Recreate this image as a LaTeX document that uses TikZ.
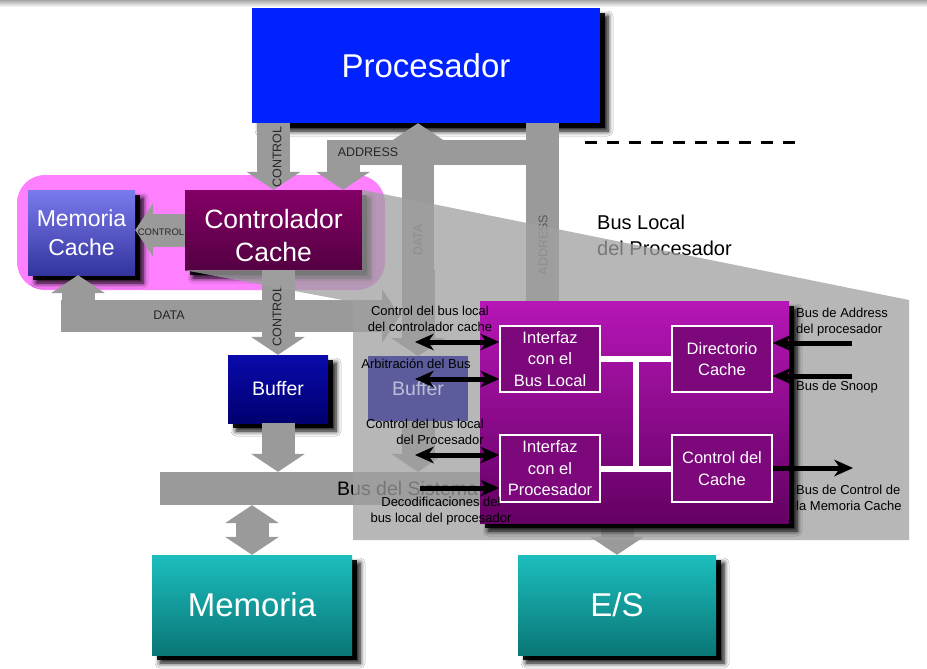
\documentclass[tikz,border=0pt]{standalone}
\usepackage{fontspec}
\setmainfont{Liberation Sans}
\usetikzlibrary{arrows.meta,shadows.blur}

\definecolor{procblue}{RGB}{0,34,255}
\definecolor{mctop}{RGB}{122,122,238}
\definecolor{mcbot}{RGB}{52,52,158}
\definecolor{ctltop}{RGB}{132,0,102}
\definecolor{ctlbot}{RGB}{84,0,66}
\definecolor{pinkbg}{RGB}{255,128,255}
\definecolor{buftop}{RGB}{10,10,172}
\definecolor{bufbot}{RGB}{0,0,112}
\definecolor{tealtop}{RGB}{28,190,190}
\definecolor{tealbot}{RGB}{10,118,118}
\definecolor{purtop}{RGB}{182,22,182}
\definecolor{purbot}{RGB}{100,0,100}
\definecolor{purin}{RGB}{124,8,124}
\definecolor{busgray}{RGB}{154,154,154}
\definecolor{zoomgray}{RGB}{160,160,160}

\newcommand\fsz[2]{\fontsize{#1}{#2}\selectfont}

\tikzset{
  bigtri/.tip={Triangle[width=54pt,length=18pt,line width=0pt]},
  sigtip/.tip={Stealth[width=17pt,length=19pt,inset=6pt,line width=0pt]},
  box/.style={inner sep=0pt, text=white, align=center,
    blur shadow={shadow xshift=8pt,shadow yshift=-8pt,shadow blur radius=5pt,shadow blur steps=6,shadow opacity=100},
    preaction={fill=black, opacity=0.9, transform canvas={shift={(5pt,-5pt)}}}},
  bus/.style={draw=busgray, line width=#1, line join=miter},
  bus/.default=33pt,
  ifbox/.style={draw=white, line width=1.5pt, fill=purin, text=white, inner sep=0pt,
    minimum width=100pt, minimum height=66pt, align=center, font=\fsz{16.5}{21.5}},
  sig/.style={line width=5pt},
  lbl/.style={inner sep=0pt, font=\fsz{13}{15.5}},
  buslbl/.style={inner sep=0pt, text=black!85, font=\fsz{12.5}{15}},
}

\begin{document}
\begin{tikzpicture}[x=1pt,y=-1pt]
\useasboundingbox (0,0) rectangle (927,669);
\fill[white] (0,0) rectangle (927,669);
\shade[top color=gray!70, bottom color=white] (0,0) rectangle (927,7);

\coordinate (dash1) at (585,142);
\coordinate (dash2) at (800,142);
\draw[line width=3pt, dash pattern=on 12pt off 10pt] (dash1) -- (dash2);
\node[anchor=west, align=left, inner sep=0pt, font=\fsz{20}{26}] (blp) at (597,235) {Bus Local\\del Procesador};

\node[fill=pinkbg, rounded corners=28pt, minimum width=368pt, minimum height=115pt] (grp) at (201,232.5) {};

\node[box, fill=procblue, minimum width=348pt, minimum height=115pt, font=\fsz{33}{40}] (proc) at (426,65.5) {Procesador};
\node[box, top color=mctop, bottom color=mcbot, minimum width=107pt, minimum height=85pt, font=\fsz{23}{29}] (mcache) at (81.5,232.5) {Memoria\\Cache};
\node[box, top color=ctltop, bottom color=ctlbot, minimum width=177pt, minimum height=80pt, font=\fsz{26.5}{33},
  text height=62pt, text depth=0pt] (ctrl) at (273.5,230) {Controlador\\Cache};
\node[box, top color=buftop, bottom color=bufbot, minimum width=100pt, minimum height=68pt, font=\fsz{19.5}{24}] (buffer) at (278,389) {Buffer};
\node[fill=busgray, inner sep=0pt, minimum width=330pt, minimum height=33pt] (bus) at (325,488.5) {};
\node[box, top color=tealtop, bottom color=tealbot, minimum width=200pt, minimum height=100pt, font=\fsz{33}{40}] (mem) at (252,605) {Memoria};
\node[box, top color=tealtop, bottom color=tealbot, minimum width=198pt, minimum height=100pt, font=\fsz{33}{40}] (es) at (617,605) {E/S};

% buses
\coordinate (adr) at (542,152);
\coordinate (adrend) at (542,301);
\coordinate (adrleft) at (327,152);
\coordinate (adrdown) at (343,140);
\draw[bus] (proc.south -| adr) -- (adrend);
\draw[bus=25pt] (adr) -- (adrleft);
\draw[bus,-bigtri] (adrdown) -- (adrdown |- ctrl.north);
\draw[bus,-bigtri] (proc.south -| ctrl.north) -- (ctrl.north);
\coordinate (dat) at (418,332);
\draw[bus=32pt,-bigtri] (dat) -- (dat |- proc.south);
\coordinate (dl) at (78,332);
\coordinate (dh) at (61,316);
\coordinate (dr) at (400,316);
\draw[bus,-bigtri] (dl) -- (dl |- mcache.south);
\draw[bus=32pt,-bigtri] (dh) -- (dr);
\draw[bus,-bigtri] (ctrl.west) -- (ctrl.west -| mcache.east);
\draw[bus,-bigtri] (ctrl.south -| buffer.north) -- (buffer.north);
\draw[bus,-bigtri] (buffer.south) -- (buffer.south |- bus.north);
\draw[bus,bigtri-bigtri] (bus.south -| mem.north) -- (mem.north);
\coordinate (esin) at (617,520);
\draw[bus,-bigtri] (esin) -- (es.north);
\coordinate (gc) at (418,270);
\coordinate (gcend) at (418,356);
\coordinate (gb) at (418,421);
\draw[bus,-bigtri] (gc) -- (gcend);
\draw[bus,-bigtri] (gb) -- (gb |- bus.north);

\node[buslbl, rotate=90] (lc1) at (277,157) {CONTROL};
\node[buslbl, rotate=90] (lc2) at (277,316) {CONTROL};
\node[buslbl] (la1) at (368,152) {ADDRESS};
\node[buslbl, font=\fsz{9.5}{11}] (lc3) at (161,232) {CONTROL};
\node[buslbl] (ld1) at (169,315) {DATA};
\node[buslbl, rotate=90, text=black!65] (ld2) at (418,240) {DATA};
\node[buslbl, rotate=90, text=black!65] (la2) at (543,245) {ADDRESS};
\node[anchor=west, inner sep=0pt, font=\fsz{19.5}{24}] (bustxt) at (337,489) {Bus del Sistema};

% zoom
\fill[zoomgray, opacity=0.75] (ctrl.north east) -- (909,300) -- (909,540) -- (353,540)
  -- (353,302) -- (ctrl.south west) -- (ctrl.south east) -- cycle;
\node[fill=bufbot!70!buftop, opacity=0.5, text opacity=0.6, text=white, inner sep=0pt,
  minimum width=100pt, minimum height=65pt, font=\fsz{19.5}{24}] (gbuf) at (418,388.5) {Buffer};

\node[box, top color=purtop, bottom color=purbot, minimum width=309pt, minimum height=222pt] (big) at (634.5,412) {};
\node[ifbox] (ifbus) at (550,359) {Interfaz\\con el\\Bus Local};
\node[ifbox, minimum height=67pt] (ifproc) at (550,468.5) {Interfaz\\con el\\Procesador};
\node[ifbox] (dir) at (722,359) {Directorio\\Cache};
\node[ifbox, minimum height=67pt] (cctl) at (722,468.5) {Control del\\Cache};
\coordinate (jx) at (636,359);
\draw[white, line width=6pt] (ifbus.east) -- (dir.west);
\draw[white, line width=6pt] (ifproc.east) -- (cctl.west);
\draw[white, line width=6pt] (jx) -- (jx |- cctl.west);

% signals
\coordinate (a1) at (415,342);
\coordinate (a2) at (415,379);
\coordinate (a3) at (415,455);
\coordinate (a4) at (420,488);
\coordinate (b1) at (852,343);
\coordinate (b2) at (852,376);
\coordinate (b3) at (853,468);
\draw[sig, sigtip-sigtip] (a1) -- (a1 -| ifbus.west);
\draw[sig, sigtip-sigtip] (a2) -- (a2 -| ifbus.west);
\draw[sig, sigtip-sigtip] (a3) -- (a3 -| ifproc.west);
\draw[sig, -sigtip] (a4) -- (a4 -| ifproc.west);
\draw[sig, -sigtip] (b1) -- (b1 -| dir.east);
\draw[sig, -sigtip] (b2) -- (b2 -| dir.east);
\draw[sig, -sigtip] (b3 -| cctl.east) -- (b3);

\node[lbl, align=center] (t1) at (430,319) {Control del bus local\\del controlador cache};
\node[lbl] (t2) at (416,364) {Arbitración del Bus};
\node[lbl, align=right, anchor=east] (t3) at (484,432) {Control del bus local\\del Procesador};
\node[lbl, align=center] (t4) at (441,511) {Decodificaciones del\\bus local del procesador};
\node[lbl, align=left, anchor=west] (t5) at (796,322) {Bus de Address\\del procesador};
\node[lbl, anchor=west] (t6) at (796,387) {Bus de Snoop};
\node[lbl, align=left, anchor=west] (t7) at (796,498) {Bus de Control de\\la Memoria Cache};
\end{tikzpicture}
\end{document}
